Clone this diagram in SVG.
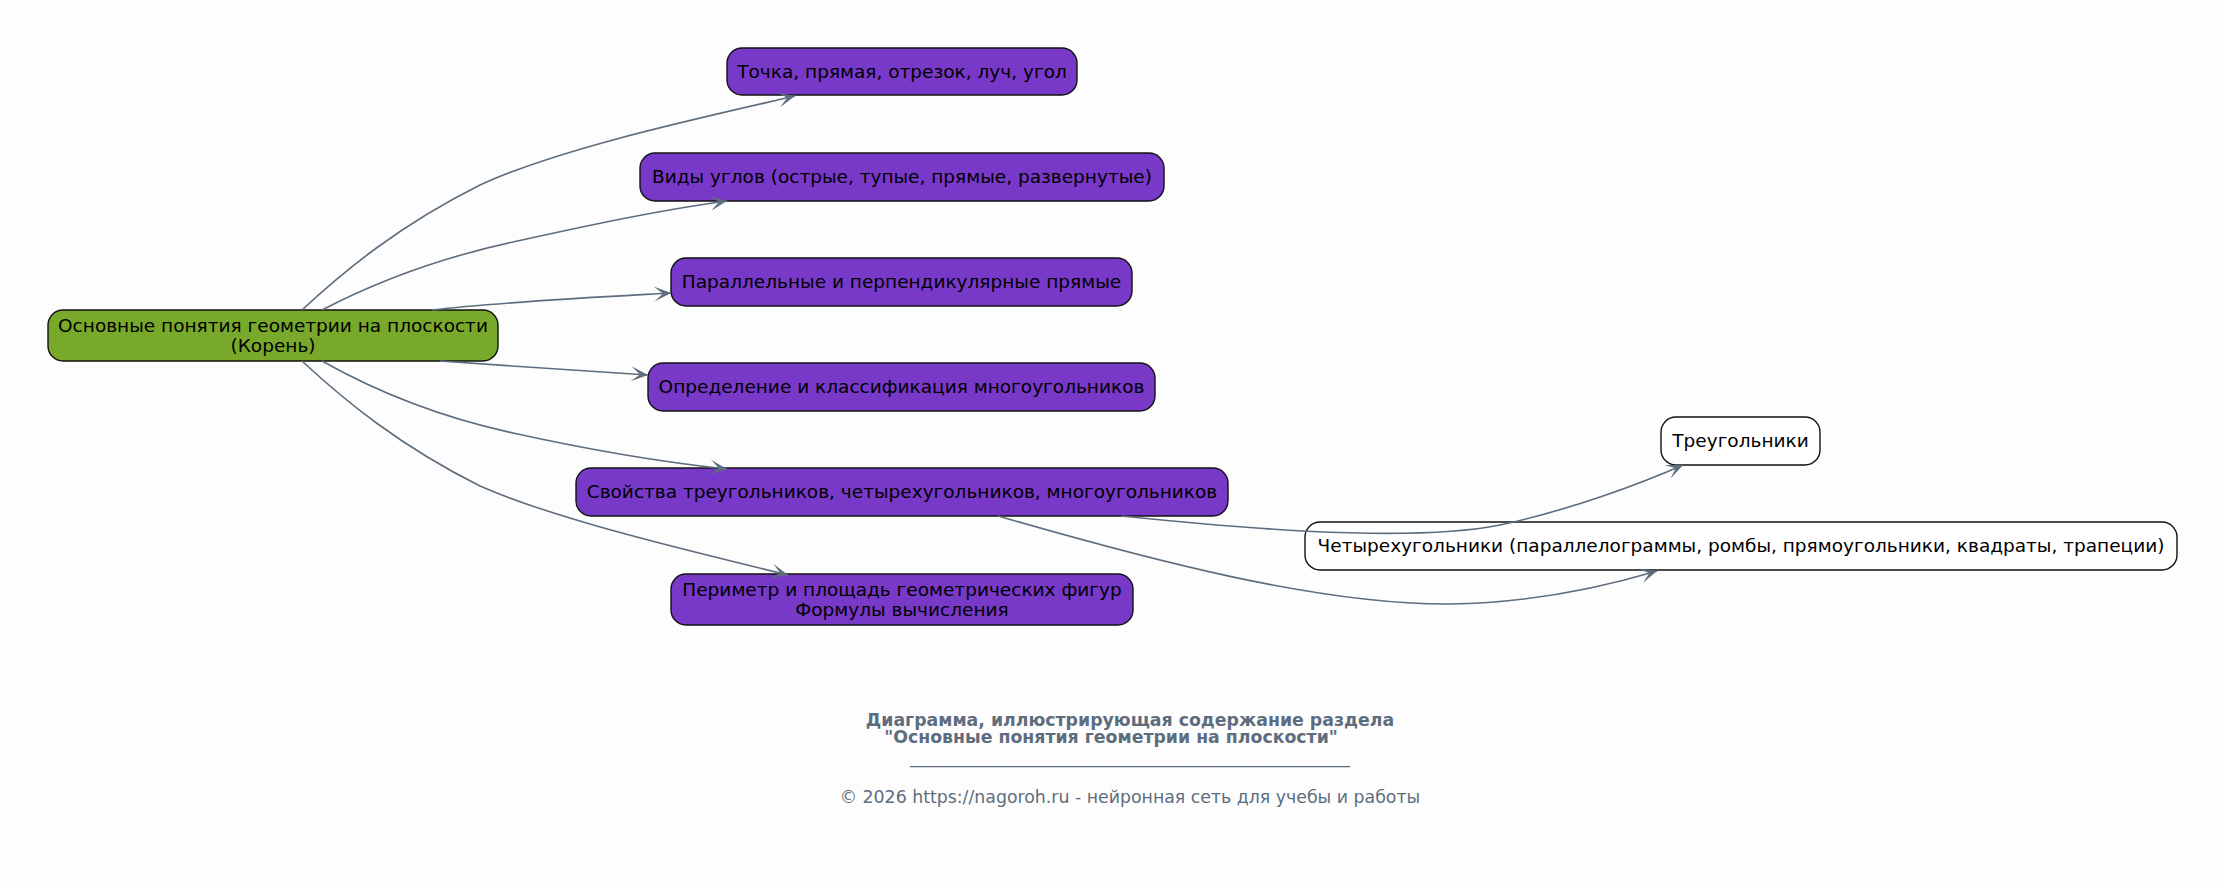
<svg xmlns="http://www.w3.org/2000/svg" width="2224" height="881" viewBox="0 0 2224 881">
<defs>
<style>
.bg{fill:#fdfdfd}
.node rect{stroke:#111;stroke-width:1.4}
.purple rect{fill:#7838c8}
.green rect{fill:#79a92b}
.white rect{fill:#ffffff}
.node text{font-family:"DejaVu Sans",sans-serif;font-size:18.5px;fill:#000;text-anchor:middle}
.edge{fill:none;stroke:#5d6d7e;stroke-width:1.6;marker-end:url(#vee)}
.title{font-family:"DejaVu Sans",sans-serif;font-size:17.33px;font-weight:bold;fill:#5d6d7e;text-anchor:middle}
.foot{font-family:"DejaVu Sans",sans-serif;font-size:17.33px;fill:#5d6d7e;text-anchor:middle}
</style>
<marker id="vee" markerUnits="userSpaceOnUse" markerWidth="20" markerHeight="16" viewBox="-18 -8 20 16" refX="0" refY="0" orient="auto">
<path d="M0,0 L-17,-7.5 L-8,0 L-17,7.5 Z" fill="#5d6d7e"/>
</marker>
</defs>
<rect class="bg" x="0" y="0" width="2224" height="881"/>
<g id="root" class="node green">
<rect x="48" y="310" width="450" height="51" rx="15"/>
<text x="273" y="332">Основные понятия геометрии на плоскости</text>
<text x="273" y="352">(Корень)</text>
</g>
<g id="n1" class="node purple">
<rect x="727" y="48" width="350" height="47" rx="15"/>
<text x="902" y="77.5">Точка, прямая, отрезок, луч, угол</text>
</g>
<g id="n2" class="node purple">
<rect x="640" y="153" width="524" height="48" rx="15"/>
<text x="902" y="183">Виды углов (острые, тупые, прямые, развернутые)</text>
</g>
<g id="n3" class="node purple">
<rect x="671" y="258" width="461" height="48" rx="15"/>
<text x="901.5" y="288">Параллельные и перпендикулярные прямые</text>
</g>
<g id="n4" class="node purple">
<rect x="648" y="363" width="507" height="48" rx="15"/>
<text x="901.5" y="393">Определение и классификация многоугольников</text>
</g>
<g id="n5" class="node purple">
<rect x="576" y="468" width="652" height="48" rx="15"/>
<text x="902" y="498">Свойства треугольников, четырехугольников, многоугольников</text>
</g>
<g id="n6" class="node purple">
<rect x="671" y="574" width="462" height="51" rx="15"/>
<text x="902" y="596">Периметр и площадь геометрических фигур</text>
<text x="902" y="616">Формулы вычисления</text>
</g>
<g id="n7" class="node white">
<rect x="1661" y="417" width="159" height="48" rx="15"/>
<text x="1740.5" y="447">Треугольники</text>
</g>
<g id="n8" class="node white">
<rect x="1305" y="522" width="872" height="48" rx="15"/>
<text x="1741" y="552">Четырехугольники (параллелограммы, ромбы, прямоугольники, квадраты, трапеции)</text>
</g>
<g id="connectors">
<path class="edge" d="M302,310 C345,270 400,225 480,185 C560,148 700,118 795,96"/>
<path class="edge" d="M322,310 C370,285 430,260 513,242 C590,225 660,210 727,201"/>
<path class="edge" d="M432,310 C500,302 600,297 671,293"/>
<path class="edge" d="M440,361 C510,366 590,371 648,375"/>
<path class="edge" d="M322,361 C370,388 430,415 513,433 C590,450 660,462 727,469"/>
<path class="edge" d="M302,361 C345,401 400,446 480,486 C560,521 695,552 788,575"/>
<path class="edge" d="M1121,516 C1200,524 1400,545 1500,525 C1570,510 1640,484 1683,465"/>
<path class="edge" d="M998,516 C1150,560 1320,605 1450,604 C1530,603 1600,588 1657,571"/>
</g>
<g id="footer">
<text class="title" x="1130" y="726">Диаграмма, иллюстрирующая содержание раздела</text>
<text class="title" x="1111" y="743">"Основные понятия геометрии на плоскости"</text>
<text class="foot" x="1130" y="763" textLength="440" lengthAdjust="spacingAndGlyphs">___________________________________________________</text>
<text class="foot" x="1130" y="803">© 2026 https://nagoroh.ru - нейронная сеть для учебы и работы</text>
</g>
</svg>
